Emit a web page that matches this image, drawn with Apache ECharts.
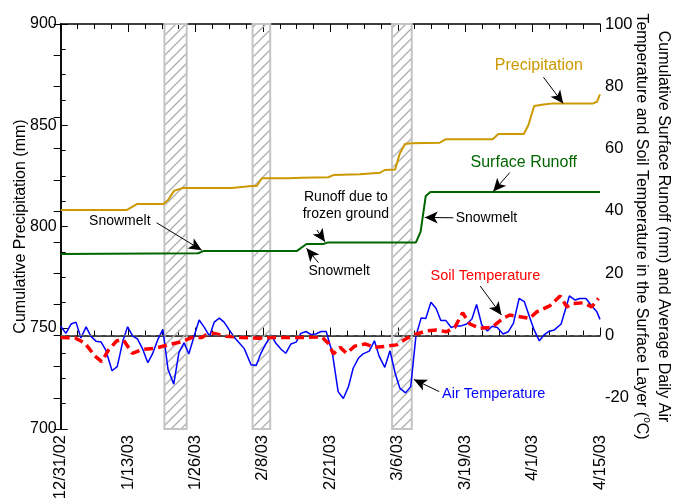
<!DOCTYPE html>
<html><head><meta charset="utf-8">
<script src="https://cdn.jsdelivr.net/npm/echarts@6/dist/echarts.min.js"></script>
<style>html,body{margin:0;padding:0;background:#fff}#c{width:676px;height:499px}</style>
</head><body><div id="c"></div>
<script>
// ---- Data ----
const xTickLabels = ['12/31/02','1/13/03','1/26/03','2/8/03','2/21/03','3/6/03','3/19/03','4/1/03','4/15/03'];
// days since 12/31/02
const precipDays = [0,12.7,14.7,19.8,20.7,21.9,23.6,33.0,36.8,37.8,38.8,43.9,46.5,51.6,52.6,57.7,61.6,62.5,64.5,65.4,66.4,67.7,73.1,74.3,83.3,84.4,89.3,90.2,91.3,93.1,95.0,102.7,103.4,104];
const precipMm   = [808.1,808.1,811.1,811.1,813.1,817.7,819.0,819.0,820.0,820.0,823.8,823.8,824.1,824.3,825.4,825.8,826.6,827.9,828.2,836.1,840.7,841.1,841.4,843.1,843.1,845.7,845.7,850.1,859.5,860.3,860.8,860.8,861.6,865.3];
const runoffDays = [0,26.5,27.5,45.5,47.4,50.6,51.6,68.5,69.4,70.4,71.3,104];
const runoffMm   = [26.2,26.4,27.1,27.1,29.4,29.4,29.9,29.9,33.3,44.8,46.1,46.1];
const airDays = [0,1.0,2.0,2.95,3.9,4.9,5.8,6.8,7.8,8.7,9.9,10.9,12.0,12.9,13.9,14.8,15.8,16.8,17.7,18.7,19.7,20.7,21.8,22.8,23.8,24.7,25.8,26.7,27.7,28.7,29.6,30.6,31.5,32.5,33.5,34.4,35.4,36.7,37.7,38.6,39.6,40.6,41.5,42.5,43.4,44.4,45.4,46.3,47.3,48.3,49.2,50.2,51.2,52.4,53.5,54.5,55.5,56.4,57.4,58.3,59.5,60.5,61.4,62.5,63.5,64.5,65.4,66.5,67.5,68.5,69.5,70.4,71.4,72.4,73.3,74.3,75.3,76.2,77.2,78.3,79.3,80.2,81.2,82.3,83.2,84.2,85.3,86.3,87.3,88.4,89.4,90.4,91.3,92.3,93.2,94.2,95.2,96.5,98.1,99.2,100.1,101.3,102.4,103.4,104];
const airTemp = [3.0,0.7,3.7,4.3,-0.8,2.8,-0.2,-1.8,-2.1,-4.7,-11.3,-10,-1.7,2.8,-0.2,-1.1,-4.3,-8.7,-5.9,-1.4,2.0,-10.9,-15.6,-5.5,-2.3,-5.9,0.2,5.0,2.6,-0.2,4.3,5.6,4.3,1.8,-0.6,-2.3,-4.2,-9.4,-9.6,-5.7,-2.5,0.1,-2.5,-4.4,-5.7,-2.7,-2.1,0.7,1.3,0.3,0.5,1.3,1.3,-5.7,-18,-20.2,-16.4,-10.5,-7.3,-5.9,-5.0,-1.7,-6.6,-10.2,-4.9,-12.1,-16.9,-18.4,-16.4,-0.2,5.6,5.5,10.7,8.7,4.8,4.8,2.6,3.1,3.1,3.7,5.3,10.0,3.4,1.5,3.0,2.6,0.5,1.2,3.9,11.9,10.9,6.0,1.8,-1.7,0.2,1.4,1.8,3.7,12.7,11.4,11.9,11.9,9.5,7.6,5.2];
const soilDays = [0,2.8,4.7,6.6,7.9,9.2,10.8,12.1,13.8,15.9,18.2,20.7,23.3,25.3,27.2,28.3,29.6,31.7,34.9,38.1,40.7,43.9,47.7,50.3,51.6,52.6,53.9,55.1,56.7,58.7,60.6,62.9,64.8,66.7,68.6,70.6,72.5,74.4,76.0,77.5,78.9,80.9,83.1,85.3,86.6,88.6,90.4,91.8,94.3,96.3,97.6,98.8,100.8,102.4,103.7];
const soilTemp = [-0.6,-0.8,-2.5,-6.6,-8.4,-4.7,-1.7,-1.4,-5.7,-4.4,-4.1,-3.0,-2.0,-0.6,-0.6,0.5,0.7,-0.2,-0.6,-0.9,-0.6,-0.6,-0.6,-0.4,-2.5,-5.9,-3.8,-5.7,-3.4,-2.7,-3.8,-3.4,-3.0,-0.9,0.5,1.5,1.8,1.2,2.6,7.3,3.7,2.3,2.6,5.5,6.6,6.0,5.5,7.6,9.5,12.7,9.2,10.3,10.5,9.2,11.9];
// frozen-ground periods (start day, end day)
const hatchStart = [20.0, 37.0, 63.9];
const hatchEnd   = [24.3, 40.4, 67.7];
// annotations (day, right-axis value)
const noteText  = ['Precipitation','Surface Runoff','Snowmelt','Runoff due to\nfrozen ground','Snowmelt','Snowmelt','Soil Temperature','Air Temperature'];
const noteX     = [92.2, 89.3, 82.1, 55.0, 53.7, 11.4, 81.9, 83.5];
const noteY     = [86.5, 55.4, 37.7, 41.8, 20.7, 36.8, 19.1, -18.8];
const arrowFrom = [[93.1,82.9],[86.6,52.3],[75.7,37.8],[49.4,33.9],[49.7,23.4],[18.5,36.2],[80.9,15.9],[73.0,-18.0]];
const arrowTo   = [[96.9,74.5],[83.4,46.2],[70.2,37.9],[50.96,30.1],[47.4,28.0],[27.2,27.4],[85.0,6.6],[68.1,-14.1]];
</script>
<script>
const FONT = 'Liberation Sans, Arial, sans-serif';
const GOLD = '#CC9900', GREEN = '#006600', BLUE = '#0000FF', RED = '#FF0000';
const noteColor = [GOLD, GREEN, '#000', '#000', '#000', '#000', RED, BLUE];
const noteSize  = [16, 16, 14, 14, 14, 14, 14.5, 14.5];

// hatch pattern
const pc = document.createElement('canvas');
pc.width = 10; pc.height = 10;
const g = pc.getContext('2d');
g.strokeStyle = '#B0B0B0'; g.lineWidth = 1.4;
g.beginPath();
g.moveTo(-5, 5); g.lineTo(5, -5);
g.moveTo(0, 10); g.lineTo(10, 0);
g.moveTo(5, 15); g.lineTo(15, 5);
g.stroke();

const chart = echarts.init(document.getElementById('c'), null, {renderer: 'canvas'});
const zip = (a, b) => a.map((v, i) => [v, b[i]]);

const xCommon = {
  type: 'value', min: 0, max: 104, interval: 13,
  splitLine: {show: false},
  axisLine: {lineStyle: {color: '#000', width: 1.5}},
  axisTick: {inside: true, length: 8, lineStyle: {color: '#000', width: 1}},
  minorTick: {show: true, splitNumber: 4, length: 5, lineStyle: {color: '#000', width: 1}},
  minorSplitLine: {show: false}
};

chart.setOption({
  animation: false,
  backgroundColor: '#fff',
  textStyle: {fontFamily: FONT},
  grid: {left: 60.7, right: 76, top: 24, bottom: 70, containLabel: false, outerBoundsMode: 'none'},
  xAxis: [
    Object.assign({}, xCommon, {
      position: 'bottom',
      axisLabel: {rotate: 90, margin: 6, fontSize: 16.5, color: '#000', fontFamily: FONT,
        formatter: v => xTickLabels[Math.round(v / 13)] || ''}
    }),
    Object.assign({}, xCommon, {position: 'top', axisLabel: {show: false}})
  ],
  yAxis: [
    {
      type: 'value', min: 700, max: 900, interval: 50, position: 'left',
      name: 'Cumulative Precipitation (mm)', nameLocation: 'middle', nameGap: 32, nameMoveOverlap: false,
      nameTextStyle: {fontSize: 16, color: '#000', fontFamily: FONT},
      splitLine: {show: false},
      axisLine: {show: true, lineStyle: {color: '#000', width: 1.5}},
      axisTick: {inside: true, length: 7, lineStyle: {color: '#000'}},
      minorTick: {show: true, splitNumber: 4, length: 5, lineStyle: {color: '#000'}},
      axisLabel: {fontSize: 16, color: '#000', margin: 4, fontFamily: FONT}
    },
    {
      type: 'value', min: -30, max: 100, interval: 10, position: 'right',
      name: 'Cumulative Surface Runoff (mm) and Average Daily Air\nTemperature and Soil Temperature in the Surface Layer ({sup|o}C)',
      nameLocation: 'middle', nameRotate: -90, nameGap: 30, nameMoveOverlap: false,
      nameTextStyle: {fontSize: 16, color: '#000', lineHeight: 22, fontFamily: FONT,
        rich: {sup: {fontSize: 10, verticalAlign: 'top', color: '#000', fontFamily: FONT, padding: [0, 0, 8, 0]}}},
      splitLine: {show: false},
      axisLine: {show: true, lineStyle: {color: '#000', width: 1.5}},
      axisTick: {inside: true, length: 7, lineStyle: {color: '#000'}},
      axisLabel: {fontSize: 16.5, color: '#000', margin: 5, fontFamily: FONT,
        formatter: v => (v % 20 === 0 ? String(v) : '')}
    }
  ],
  series: [
    {
      type: 'custom', xAxisIndex: 0, yAxisIndex: 0, z: 1, silent: true,
      data: zip(hatchStart, hatchEnd),
      renderItem: (params, api) => {
        const p1 = api.coord([api.value(0), 900]);
        const p2 = api.coord([api.value(1), 700]);
        return {
          type: 'rect',
          shape: {x: p1[0], y: p1[1], width: p2[0] - p1[0], height: p2[1] - p1[1]},
          style: {fill: {image: pc, repeat: 'repeat'}, stroke: '#C4C4C4', lineWidth: 2}
        };
      }
    },
    {
      name: 'Precipitation', type: 'line', xAxisIndex: 0, yAxisIndex: 0, z: 3,
      showSymbol: false, data: zip(precipDays, precipMm),
      lineStyle: {color: GOLD, width: 2}
    },
    {
      name: 'Surface Runoff', type: 'line', xAxisIndex: 0, yAxisIndex: 1, z: 3,
      showSymbol: false, data: zip(runoffDays, runoffMm),
      lineStyle: {color: GREEN, width: 2}
    },
    {
      name: 'Air Temperature', type: 'line', xAxisIndex: 0, yAxisIndex: 1, z: 3,
      showSymbol: false, data: zip(airDays, airTemp),
      lineStyle: {color: BLUE, width: 1.5},
      markLine: {
        silent: true, symbol: ['none', 'none'], label: {show: false},
        lineStyle: {color: '#666', type: [5, 4], width: 1},
        data: [{yAxis: 0}]
      }
    },
    {
      name: 'Soil Temperature', type: 'line', xAxisIndex: 0, yAxisIndex: 1, z: 4,
      showSymbol: false, data: zip(soilDays, soilTemp),
      lineStyle: {color: RED, width: 3.5, type: [9, 5]}
    },
    {
      name: 'notes', type: 'line', xAxisIndex: 0, yAxisIndex: 1, z: 5,
      showSymbol: false, data: [],
      markLine: {
        silent: true, symbol: ['none', 'arrow'], symbolSize: [9, 13], label: {show: false},
        lineStyle: {color: '#000', type: 'solid', width: 1},
        data: arrowFrom.map((f, i) => [{coord: f}, {coord: arrowTo[i]}])
      },
      markPoint: {
        silent: true,
        data: noteText.map((t, i) => ({
          coord: [noteX[i], noteY[i]], symbol: 'circle', symbolSize: 1,
          itemStyle: {color: 'rgba(0,0,0,0)'},
          label: {show: true, position: 'inside', formatter: t, color: noteColor[i],
            fontSize: noteSize[i], fontFamily: FONT, lineHeight: 17}
        }))
      }
    }
  ]
});
</script>
</body></html>
